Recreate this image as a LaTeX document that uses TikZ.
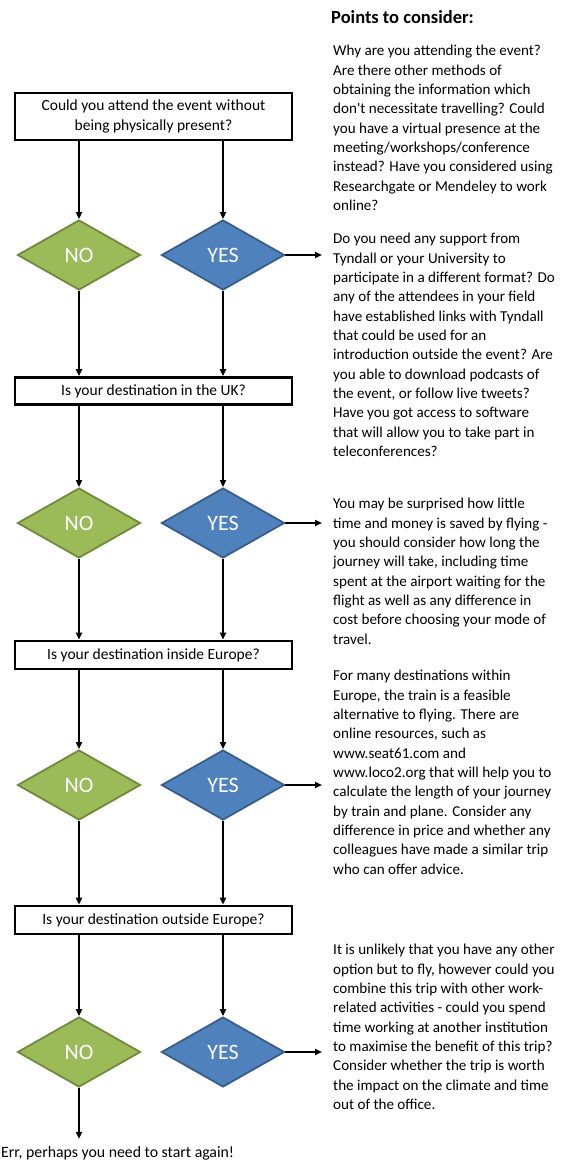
\documentclass[tikz,border=0pt]{standalone}
\usepackage{fontspec}
\setmainfont{Carlito}
\usetikzlibrary{shapes.geometric,arrows.meta}
\definecolor{nogreen}{HTML}{9BBB59}
\definecolor{nogreenb}{HTML}{71893F}
\definecolor{yesblue}{HTML}{4F81BD}
\definecolor{yesblueb}{HTML}{385D8A}
\begin{document}
\begin{tikzpicture}[x=1pt,y=-1pt,
  qbox/.style={draw,line width=2.6pt,minimum width=277pt,inner sep=0pt,align=center,font=\fontsize{15.5}{20}\selectfont},
  dec/.style={diamond,minimum width=123pt,minimum height=70pt,inner sep=0pt,line width=1.8pt,text=white,font=\fontsize{22}{24}\selectfont},
  nobox/.style={dec,fill=nogreen,draw=nogreenb},
  yesbox/.style={dec,fill=yesblue,draw=yesblueb},
  conn/.style={line width=1.8pt,-{Triangle[length=7pt,width=6pt]}},
  para/.style={anchor=north west,inner sep=0pt,align=left,font=\fontsize{15.1}{19.35}\selectfont}]
\useasboundingbox (0,0) rectangle (578,1170);

% question boxes
\node[qbox,minimum height=47pt] (q1) at (153.5,116.5) {Could you attend the event without\\being physically present?};
\node[qbox,minimum height=27pt] (q2) at (153.5,391) {Is your destination in the UK?};
\node[qbox,minimum height=28pt] (q3) at (153.5,655) {Is your destination inside Europe?};
\node[qbox,minimum height=28pt] (q4) at (153.5,920) {Is your destination outside Europe?};

% decisions
\node[nobox] (n1) at (79,255) {NO};
\node[yesbox] (y1) at (223,255) {YES};
\node[nobox] (n2) at (79,523) {NO};
\node[yesbox] (y2) at (223,523) {YES};
\node[nobox] (n3) at (79,785) {NO};
\node[yesbox] (y3) at (223,785) {YES};
\node[nobox] (n4) at (79,1052) {NO};
\node[yesbox] (y4) at (223,1052) {YES};

% right column texts
\node[anchor=north west,inner sep=0pt,font=\fontsize{18.5}{22}\selectfont\bfseries] (head) at (331,10) {Points to consider:};
\node[para] (p1) at (333,45) {Why are you attending the event?\\Are there other methods of\\obtaining the information which\\don\textquotesingle t necessitate travelling? Could\\you have a virtual presence at the\\meeting/workshops/conference\\instead? Have you considered using\\Researchgate or Mendeley to work\\online?};
\node[para] (p2) at (333,233) {Do you need any support from\\Tyndall or your University to\\participate in a different format? Do\\any of the attendees in your field\\have established links with Tyndall\\that could be used for an\\introduction outside the event? Are\\you able to download podcasts of\\the event, or follow live tweets?\\Have you got access to software\\that will allow you to take part in\\teleconferences?};
\node[para] (p3) at (333,498) {You may be surprised how little\\time and money is saved by flying -\\you should consider how long the\\journey will take, including time\\spent at the airport waiting for the\\flight as well as any difference in\\cost before choosing your mode of\\travel.};
\node[para] (p4) at (333,670) {For many destinations within\\Europe, the train is a feasible\\alternative to flying. There are\\online resources, such as\\www.seat61.com and\\www.loco2.org that will help you to\\calculate the length of your journey\\by train and plane. Consider any\\difference in price and whether any\\colleagues have made a similar trip\\who can offer advice.};
\node[para] (p5) at (333,944) {It is unlikely that you have any other\\option but to fly, however could you\\combine this trip with other work-\\related activities - could you spend\\time working at another institution\\to maximise the benefit of this trip?\\Consider whether the trip is worth\\the impact on the climate and time\\out of the office.};

\node[anchor=west,inner sep=0pt,font=\fontsize{15.8}{19}\selectfont] (err) at (1,1153) {Err, perhaps you need to start again!};

% arrow targets
\coordinate (t1) at (322,255);
\coordinate (t2) at (322,523);
\coordinate (t3) at (322,785);
\coordinate (t4) at (322,1052);

% connectors
\draw[conn] (q1.south -| n1) -- (n1.north);
\draw[conn] (q1.south -| y1) -- (y1.north);
\draw[conn] (n1.south) -- (n1 |- q2.north);
\draw[conn] (y1.south) -- (y1 |- q2.north);
\draw[conn] (q2.south -| n2) -- (n2.north);
\draw[conn] (q2.south -| y2) -- (y2.north);
\draw[conn] (n2.south) -- (n2 |- q3.north);
\draw[conn] (y2.south) -- (y2 |- q3.north);
\draw[conn] (q3.south -| n3) -- (n3.north);
\draw[conn] (q3.south -| y3) -- (y3.north);
\draw[conn] (n3.south) -- (n3 |- q4.north);
\draw[conn] (y3.south) -- (y3 |- q4.north);
\draw[conn] (q4.south -| n4) -- (n4.north);
\draw[conn] (q4.south -| y4) -- (y4.north);
\draw[conn] (n4.south) -- ([yshift=7pt]n4 |- err.north);

\draw[conn] (y1.east) -- (t1);
\draw[conn] (y2.east) -- (t2);
\draw[conn] (y3.east) -- (t3);
\draw[conn] (y4.east) -- (t4);
\end{tikzpicture}
\end{document}
